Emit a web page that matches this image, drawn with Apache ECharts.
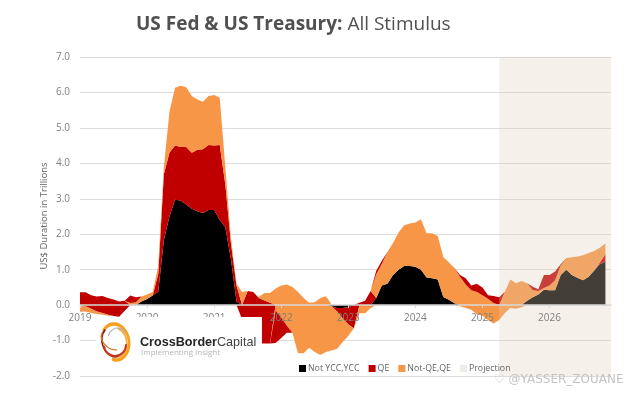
<!DOCTYPE html>
<html><head><meta charset="utf-8">
<style>html,body{margin:0;padding:0;background:#fff}#c{width:631px;height:395px}</style>
<script src="https://cdn.jsdelivr.net/npm/echarts@6/dist/echarts.min.js"></script>
</head><body><div id="c"></div>
<script>
const yearLabels=['2019','2020','2021','2022','2023','2024','2025','2026'];
const monthCount=96;
const projectionStartIndex=75;
const blackUp=[0,0,0,0,0,0,0,0,0,0,
0,.1,.17,.27,.38,1.84,2.5,2.97,2.95,2.84,
2.72,2.65,2.6,2.68,2.68,2.4,2.2,1.3,.1,0,
0,0,0,0,0,0,0,0,0,0,
0,0,0,0,0,0,0,0,0,0,
0,0,0,.2,.55,.6,.85,1.0,1.1,1.1,
1.08,1.0,.78,.76,.72,.23,.15,.05,0,0,
0,0,0,0,0,0,0,0,0,0,
.12,.22,.3,.43,.42,.42,.85,1.0,.85,.77,
.7,.8,.98,1.15,1.22];
const redUp=[.36,.36,.28,.24,.26,.2,.16,.1,.12,0,
0,0,0,0,.5,1.85,1.8,1.53,1.51,1.62,
1.58,1.73,1.8,1.84,1.82,2.12,1.2,.45,.45,0,
.4,.37,.2,.13,.07,0,0,0,0,0,
0,0,0,0,0,0,0,0,0,0,
.07,.12,.4,0,0,0,0,0,0,0,
0,0,0,0,0,0,0,0,0,0,
0,0,0,0,0,0,0,0,0,0,
0,0,0,0,0,0,0,0,0,0,
0,0,0,.05,.22];
const orangeUp=[0,0,0,0,0,0,0,0,0,.06,
.08,.14,.13,.1,.22,.2,1.15,1.63,1.73,1.69,
1.6,1.42,1.34,1.38,1.43,1.33,.5,.15,.05,.37,
0,0,.03,.21,.27,.47,.55,.58,.51,.37,
.2,.07,.08,.2,.25,.02,0,0,0,0,
0,0,0,.67,.62,.9,.9,1.05,1.15,1.2,
1.25,1.42,1.25,1.27,1.23,1.13,1.05,1.0,.8,.58,
.42,.37,.28,.18,.06,0,.38,.72,.62,.68,
.5,.2,.1,.05,.13,.28,.27,.33,.5,.6,
.71,.67,.55,.42,.3];
const outerRedUp=[0,0,0,0,0,0,0,0,0,.21,
.14,0,0,0,0,0,0,0,0,0,
0,0,0,0,0,0,0,0,0,0,
0,0,0,0,0,0,0,0,0,0,
0,0,0,0,0,0,0,0,0,0,
0,0,0,.1,.08,0,0,0,0,0,
0,0,0,0,0,0,0,0,.05,.18,
.13,.23,.22,.1,.2,.22,0,0,0,0,
0,.1,.05,.37,.3,.25,.03,0,0,0,
0,0,0,0,0];
const blackDown=[0,0,0,0,0,0,0,0,0,0,
0,0,0,0,0,0,0,0,0,0,
0,0,0,0,0,0,0,0,0,0,
0,0,0,0,0,0,0,0,0,0,
0,0,0,0,0,-.03,-.08,-.08,-.05,0,
0,0,0,0,0,0,0,0,0,0,
0,0,0,0,0,0,0,0,0,0,
0,0,0,0,0,0,0,0,0,0,
0,0,0,0,0,0,0,0,0,0,
0,0,0,0,0];
const redDown=[0,-.03,-.1,-.18,-.22,-.27,-.31,-.33,-.16,0,
0,0,0,0,0,0,0,0,0,0,
0,0,0,0,0,0,0,0,0,-.4,
-1.06,-1.06,-1.08,-1.08,-1.08,0,0,0,0,0,
0,0,0,0,0,0,-.1,-.3,-.5,-.65,
0,0,0,0,0,0,0,0,0,0,
0,0,0,0,0,0,0,0,0,0,
0,0,0,0,0,0,0,0,0,0,
0,0,0,0,0,0,0,0,0,0,
0,0,0,0,0];
const orangeDown=[-.19,-.15,-.12,-.07,-.05,-.03,0,0,0,0,
0,0,0,0,0,0,0,0,0,0,
0,0,0,0,0,0,0,0,0,0,
0,0,0,0,0,-.15,-.35,-.58,-.78,-1.36,
-1.36,-1.2,-1.32,-1.41,-1.32,-1.25,-1.05,-.66,-.32,0,
-.23,-.23,-.08,0,0,0,0,0,0,0,
0,0,0,0,0,0,0,0,-.03,-.08,
-.13,-.26,-.3,-.42,-.52,-.42,-.22,-.08,-.1,-.06,
0,0,0,0,0,0,0,0,0,0,
0,0,0,0,0];
const outerRedDown=[0,0,0,0,0,0,0,0,0,0,
0,0,0,0,0,0,0,0,0,0,
0,0,0,0,0,0,0,0,0,0,
0,0,0,0,0,-.92,-.58,-.2,0,0,
0,0,0,0,0,0,0,0,0,0,
0,0,0,0,0,0,0,0,0,0,
0,0,0,0,0,0,0,0,0,0,
0,0,0,0,0,0,0,0,0,0,
0,0,0,0,0,0,0,0,0,0,
0,0,0,0,0];

const BLACK='#000000',RED='#c00000',ORANGE='#f79646',BAND='#efebe5';
const NB='Not YCC,YCC',NR='QE',NO='Not-QE,QE',NP='Projection';
const categories=[];
for(let i=0;i<monthCount;i++)categories.push(yearLabels[Math.floor(i/12)]);
const area=(name,data,color,stack)=>({name,type:'line',stack,data,symbol:'none',showSymbol:false,
  lineStyle:{width:0},areaStyle:{color,opacity:1},itemStyle:{color},z:2,silent:true,animation:false,connectNulls:false});
const series=[
 area(NB,blackUp,BLACK,'up'),area(NR,redUp,RED,'up'),area(NO,orangeUp,ORANGE,'up'),area(NR,outerRedUp,RED,'up'),
 area(NB,blackDown,BLACK,'down'),area(NR,redDown,RED,'down'),area(NO,orangeDown,ORANGE,'down'),area(NR,outerRedDown,RED,'down'),
 {name:NP,type:'line',data:[],itemStyle:{color:BAND},lineStyle:{width:0},symbol:'none',z:3,silent:true,
  markArea:{silent:true,z:3,itemStyle:{color:'rgba(222,204,182,0.3)'},
   data:[[{xAxis:projectionStartIndex,yAxis:-2},{xAxis:monthCount-1,yAxis:7}]]}}
];
const chart=echarts.init(document.getElementById('c'),null,{renderer:'canvas'});
const fam='"Open Sans","Noto Sans",sans-serif';
const arc=(x,y,r,a,b,sx,rot,stroke,w)=>({type:'arc',z:12,x,y,scaleX:sx,rotation:rot,
  shape:{cx:0,cy:0,r,startAngle:a,endAngle:b},style:{fill:null,stroke,lineWidth:w,lineCap:'round'},silent:true});
chart.setOption({
 animation:false,backgroundColor:'#fff',
 title:{left:131,top:10,text:'{b|US Fed & US Treasury:}{r| All Stimulus}',
  textStyle:{rich:{b:{fontFamily:fam,fontSize:19,fontWeight:700,color:'#505050'},r:{fontFamily:fam,fontSize:19,fontWeight:400,color:'#505050'}}}},
 grid:{left:80,right:20,top:57,bottom:19,containLabel:false},
 legend:{left:294,top:359,itemWidth:7,itemHeight:7,itemGap:9,icon:'rect',z:8,selectedMode:false,
  data:[NB,NR,NO,NP],textStyle:{fontFamily:fam,fontSize:8.8,color:'#666666',padding:[0,0,0,-3]}},
 xAxis:{type:'category',data:categories,boundaryGap:false,z:5,offset:-71,
  axisLine:{onZero:false,lineStyle:{color:'#d9d9d9',width:1.5}},
  axisTick:{show:true,interval:11,length:3,lineStyle:{color:'#d9d9d9'}},
  axisLabel:{interval:(i)=>i%12===0,margin:8,fontFamily:fam,fontSize:10,color:'#7f7f7f',hideOverlap:false},
  splitLine:{show:false}},
 yAxis:{type:'value',min:-2,max:7,interval:1,
  axisLine:{show:false},axisTick:{show:false},
  axisLabel:{margin:10,fontFamily:fam,fontSize:10,color:'#808080',formatter:v=>v.toFixed(1)},
  splitLine:{lineStyle:{color:'#dcdcdc',width:1.2}}},
 series,
 graphic:{elements:[
  {type:'text',z:10,x:44,y:216,rotation:Math.PI/2,silent:true,
   style:{text:'US$ Duration in Trillions',fontFamily:fam,fontSize:9.5,fill:'#666666',align:'center',verticalAlign:'middle'}},
  {type:'rect',z:11,shape:{x:96,y:317,width:166,height:49},style:{fill:'#ffffff'},silent:true},
  arc(115,342,18,-2.3,1.9,.78,0.15,'#f7a01e',3.5),
  arc(116,343,15,-1.2,1.4,.72,0.1,'#f8b04a',2.5),
  arc(113,342,15,1.5,4.3,.72,0.3,'#8a1a10',2.2),
  arc(115,345,11,0.2,3.2,1.0,0.2,'#c8381c',2),
  arc(117,338,10,3.2,5.6,.9,-0.2,'#b0b0b0',1),
  arc(112,340,12,2.2,4.6,.7,0.9,'#d97a1c',1.6),
  {type:'text',z:12,x:140,y:336,silent:true,style:{
    text:'{a|CrossBorder}{c|Capital}',
    rich:{a:{fontFamily:'"Liberation Sans",sans-serif',fontSize:12.6,fontWeight:700,fill:'#262626',color:'#262626'},
          c:{fontFamily:'"Liberation Sans",sans-serif',fontSize:12.6,fontWeight:400,fill:'#404040',color:'#404040'}}}},
  {type:'text',z:12,x:141,y:349,silent:true,style:{text:'Implementing Insight',fontFamily:fam,fontSize:8,fill:'#b5b5b5'}},
  {type:'text',z:13,x:494,y:374,silent:true,style:{text:'♡ @YASSER_ZOUANE',fontFamily:'"DejaVu Sans",sans-serif',fontSize:12,fill:'#c4c4c4'}}
 ]}
});
</script></body></html>
